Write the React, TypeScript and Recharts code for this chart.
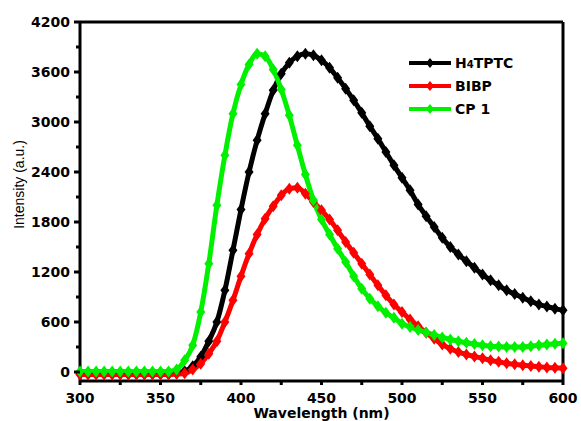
import {
  LineChart,
  Line,
  XAxis,
  YAxis,
  Legend,
  ReferenceLine,
} from "recharts";

const wavelength = [
  300, 305, 310, 315, 320, 325, 330, 335, 340, 345, 350, 355, 360, 365, 370,
  375, 380, 385, 390, 395, 400, 405, 410, 415, 420, 425, 430, 435, 440, 445,
  450, 455, 460, 465, 470, 475, 480, 485, 490, 495, 500, 505, 510, 515, 520,
  525, 530, 535, 540, 545, 550, 555, 560, 565, 570, 575, 580, 585, 590, 595,
  600,
];

const h4tptc = [
  -25, -25, -25, -25, -25, -25, -25, -25, -25, -25, -25, -25, -15, 10, 70,
  184, 370, 600, 980, 1460, 1950, 2400, 2780, 3100, 3380, 3580, 3710, 3790,
  3820, 3800, 3740, 3650, 3530, 3400, 3260, 3110, 2950, 2800, 2640, 2480,
  2330, 2180, 2010, 1870, 1740, 1610, 1500, 1410, 1330, 1250, 1170, 1100,
  1040, 980, 935, 890, 850, 810, 785, 760, 740,
];

const bibp = [
  -30, -30, -30, -30, -30, -30, -30, -30, -30, -30, -30, -30, -25, -15, 30,
  100, 220, 370, 600, 860, 1150, 1420, 1650, 1840, 1990, 2120, 2200, 2210,
  2140, 2040, 1940, 1830, 1700, 1560, 1430, 1300, 1170, 1040, 920, 810, 720,
  630, 550, 470, 400, 330, 280, 240, 210, 185, 165, 140, 122, 105, 92, 82, 72,
  63, 55, 50, 45,
];

const cp1 = [
  5, 5, 5, 5, 5, 5, 5, 5, 5, 5, 5, 5, 30, 140, 320, 720, 1300, 2000, 2600,
  3100, 3450, 3690, 3820, 3790, 3630, 3390, 3080, 2720, 2370, 2060, 1830,
  1650, 1480, 1320, 1150, 1000, 880, 790, 710, 650, 580, 540, 505, 475, 445,
  415, 390, 370, 350, 335, 320, 310, 305, 300, 300, 300, 310, 320, 330, 340,
  345,
];

const yTicks = [
  0, 300, 600, 900, 1200, 1500, 1800, 2100, 2400, 2700, 3000, 3300, 3600,
  3900, 4200,
];
const xTicks = [
  300, 325, 350, 375, 400, 425, 450, 475, 500, 525, 550, 575, 600,
];

const data = wavelength.map((w, i) => ({
  w,
  h4tptc: h4tptc[i],
  bibp: bibp[i],
  cp1: cp1[i],
}));

const FONT = "'DejaVu Sans', 'Liberation Sans', Arial, sans-serif";

const Diamond = (color: string) => (props: any) => {
  const { cx, cy, index } = props;
  if (cx == null || cy == null) return <g key={index} />;
  return (
    <polygon
      key={index}
      points={`${cx},${cy - 6} ${cx + 4.5},${cy} ${cx},${cy + 6} ${cx - 4.5},${cy}`}
      fill={color}
    />
  );
};

const YTick = (props: any) => {
  const { x, y, payload } = props;
  const major = payload.value % 600 === 0;
  return (
    <g>
      <line
        x1={x}
        x2={x - (major ? 6 : 4)}
        y1={y}
        y2={y}
        stroke="#000"
        strokeWidth={3}
      />
      {major && (
        <text
          x={x - 10}
          y={y}
          textAnchor="end"
          dominantBaseline="central"
          fontFamily={FONT}
          fontWeight="bold"
          fontSize={14}
          fill="#000"
        >
          {payload.value}
        </text>
      )}
    </g>
  );
};

const XTick = (props: any) => {
  const { x, y, payload } = props;
  const major = payload.value % 50 === 0;
  return (
    <g>
      <line
        x1={x}
        x2={x}
        y1={y}
        y2={y + 4}
        stroke="#000"
        strokeWidth={3}
      />
      {major && (
        <text
          x={x}
          y={y + 17}
          textAnchor="middle"
          dominantBaseline="central"
          fontFamily={FONT}
          fontWeight="bold"
          fontSize={14}
          fill="#000"
        >
          {payload.value}
        </text>
      )}
    </g>
  );
};

const YLabel = (props: any) => {
  const { viewBox } = props;
  const cx = 19;
  const cy = viewBox.y + viewBox.height / 2 - 17;
  return (
    <text
      x={cx}
      y={cy}
      transform={`rotate(-90, ${cx}, ${cy})`}
      textAnchor="middle"
      dominantBaseline="central"
      fontFamily="'Liberation Sans', Arial, sans-serif"
      fontSize={14}
      fill="#000"
    >
      Intensity (a.u.)
    </text>
  );
};

const legendItems = [
  { key: "h4tptc", color: "#000000", label: "H", sub: "4", rest: "TPTC" },
  { key: "bibp", color: "#ff0000", label: "BIBP", sub: "", rest: "" },
  { key: "cp1", color: "#00f000", label: "CP 1", sub: "", rest: "" },
];

const renderLegend = () => (
  <div style={{ fontFamily: FONT, fontWeight: "bold", fontSize: 14 }}>
    {legendItems.map((it) => (
      <div
        key={it.key}
        style={{ display: "flex", alignItems: "center", height: 23 }}
      >
        <svg width={44} height={12} style={{ marginRight: 3 }}>
          <line x1={1} x2={43} y1={6} y2={6} stroke={it.color} strokeWidth={4} />
          <polygon points="22,1 26,6 22,11 18,6" fill={it.color} />
        </svg>
        <span>
          {it.label}
          {it.sub && <span style={{ fontSize: 10 }}>{it.sub}</span>}
          {it.rest}
        </span>
      </div>
    ))}
  </div>
);

export default function App() {
  return (
    <div style={{ position: "absolute", left: 0, top: 0, background: "#fff" }}>
      <LineChart
        width={581}
        height={421}
        data={data}
        margin={{ top: 22, right: 18, bottom: 0, left: 0 }}
      >
        <XAxis
          dataKey="w"
          type="number"
          domain={[300, 600]}
          ticks={xTicks}
          interval={0}
          height={40}
          tickSize={0}
          tickMargin={0}
          tickLine={false}
          axisLine={{ stroke: "#000", strokeWidth: 3 }}
          tick={<XTick />}
          label={{
            value: "Wavelength (nm)",
            position: "insideBottom",
            offset: 3,
            style: {
              fontFamily: FONT,
              fontWeight: "bold",
              fontSize: 14,
              fill: "#000",
            },
          }}
        />
        <YAxis
          type="number"
          domain={[-108, 4200]}
          ticks={yTicks}
          interval={0}
          width={80}
          tickSize={0}
          tickMargin={0}
          tickLine={false}
          allowDataOverflow
          axisLine={{ stroke: "#000", strokeWidth: 3 }}
          tick={<YTick />}
          label={<YLabel />}
        />
        <ReferenceLine y={4200} stroke="#000" strokeWidth={3} ifOverflow="visible" />
        <ReferenceLine x={600} stroke="#000" strokeWidth={3} ifOverflow="visible" />
        <Legend
          layout="vertical"
          align="center"
          verticalAlign="middle"
          content={renderLegend}
          wrapperStyle={{ top: 51, left: 408, width: 150 }}
        />
        <Line
          dataKey="h4tptc"
          type="monotone"
          stroke="#000000"
          strokeWidth={5}
          dot={Diamond("#000000")}
          isAnimationActive={false}
        />
        <Line
          dataKey="bibp"
          type="monotone"
          stroke="#ff0000"
          strokeWidth={5}
          dot={Diamond("#ff0000")}
          isAnimationActive={false}
        />
        <Line
          dataKey="cp1"
          type="monotone"
          stroke="#00f000"
          strokeWidth={5}
          dot={Diamond("#00f000")}
          isAnimationActive={false}
        />
      </LineChart>
    </div>
  );
}
